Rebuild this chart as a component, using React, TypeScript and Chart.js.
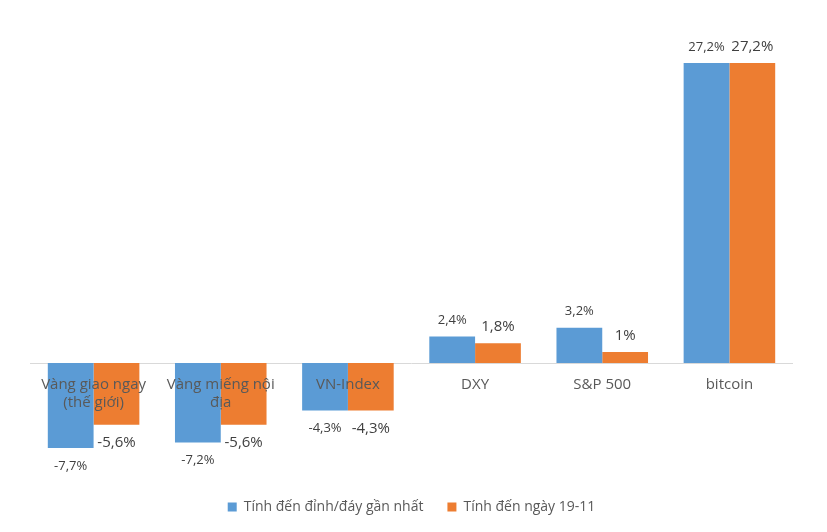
import React, { useEffect, useRef } from "react";
import { Chart, registerables } from "chart.js";

Chart.register(...registerables);

const categories: string[][] = [
  ["Vàng giao ngay", "(thế giới)"],
  ["Vàng miếng nội", "địa"],
  ["VN-Index"],
  ["DXY"],
  ["S&P 500"],
  ["bitcoin"],
];
const seriesNames = ["Tính đến đỉnh/đáy gần nhất", "Tính đến ngày 19-11"];
const peakValues = [-7.7, -7.2, -4.3, 2.4, 3.2, 27.2];
const dateValues = [-5.6, -5.6, -4.3, 1.8, 1.0, 27.2];

const FONT = "'Open Sans', 'Noto Sans', sans-serif";

const fmt = (v: number) => String(v).replace(".", ",") + "%";

const overlayPlugin = {
  id: "overlay",
  beforeDatasetsDraw(chart: any) {
    const { ctx, chartArea, scales } = chart;
    const y0 = scales.y.getPixelForValue(0);
    ctx.save();
    ctx.strokeStyle = "#d9d9d9";
    ctx.lineWidth = 1;
    ctx.beginPath();
    ctx.moveTo(chartArea.left, Math.round(y0) + 0.5);
    ctx.lineTo(chartArea.right, Math.round(y0) + 0.5);
    ctx.stroke();
    ctx.restore();
  },
  afterDatasetsDraw(chart: any) {
    const { ctx, scales } = chart;
    const y0 = scales.y.getPixelForValue(0);
    ctx.save();
    ctx.fillStyle = "#595959";
    ctx.font = `15px ${FONT}`;
    ctx.textAlign = "center";
    ctx.textBaseline = "middle";
    categories.forEach((lines, i) => {
      const x = scales.x.getPixelForValue(i);
      lines.forEach((ln, j) => {
        ctx.fillText(ln, x, y0 + 22 + j * 18);
      });
    });
    ctx.fillStyle = "#404040";
    chart.data.datasets.forEach((ds: any, di: number) => {
      const meta = chart.getDatasetMeta(di);
      ctx.font = di === 0 ? `13px ${FONT}` : `15px ${FONT}`;
      meta.data.forEach((bar: any, i: number) => {
        const v = ds.data[i] as number;
        const y = v >= 0 ? bar.y - 16 : bar.y + 18;
        ctx.fillText(fmt(v), bar.x, y);
      });
    });
    ctx.restore();
  },
};

export default function App() {
  const ref = useRef<HTMLCanvasElement | null>(null);
  useEffect(() => {
    if (!ref.current) return;
    const chart = new Chart(ref.current, {
      type: "bar",
      data: {
        labels: categories.map((c) => c.join(" ")),
        datasets: [
          {
            label: seriesNames[0],
            data: peakValues,
            backgroundColor: "#5B9BD5",
            categoryPercentage: 0.72,
            barPercentage: 1.0,
          },
          {
            label: seriesNames[1],
            data: dateValues,
            backgroundColor: "#ED7D31",
            categoryPercentage: 0.72,
            barPercentage: 1.0,
          },
        ],
      },
      options: {
        animation: false,
        responsive: false,
        maintainAspectRatio: false,
        layout: { padding: { left: 30, right: 34, top: 32, bottom: 8 } },
        scales: {
          x: { display: false },
          y: { display: false, min: -10.24, max: 30 },
        },
        plugins: {
          tooltip: { enabled: false },
          legend: {
            position: "bottom",
            labels: {
              boxWidth: 9,
              boxHeight: 9,
              padding: 24,
              color: "#595959",
              font: { size: 14, family: FONT },
            },
          },
        },
      },
      plugins: [overlayPlugin],
    });
    return () => chart.destroy();
  }, []);
  return (
    <div style={{ position: "fixed", left: 0, top: 0, width: 827, height: 532, background: "#fff" }}>
      <canvas ref={ref} width={827} height={532} style={{ display: "block" }} />
    </div>
  );
}
